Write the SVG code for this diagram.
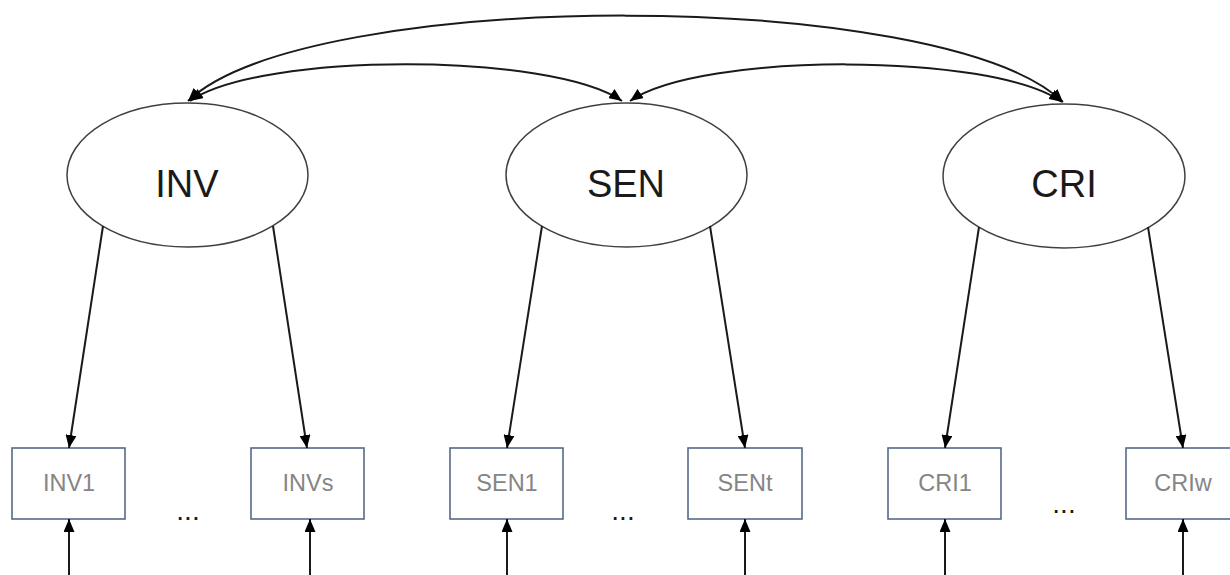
<svg xmlns="http://www.w3.org/2000/svg" width="1230" height="575" viewBox="0 0 1230 575">
  <style>
    .latent { fill: #ffffff; stroke: #404040; stroke-width: 1.5; }
    .latent-label { font-family: "Liberation Sans", Arial, sans-serif; font-size: 38px; fill: #1a1a1a; text-anchor: middle; }
    .item { fill: #ffffff; stroke: #55698a; stroke-width: 1.6; }
    .item-label { font-family: "Liberation Sans", Arial, sans-serif; font-size: 23.5px; fill: #858585; text-anchor: middle; }
    .dots { font-family: "Liberation Sans", Arial, sans-serif; font-size: 28px; fill: #1a1a1a; text-anchor: middle; }
    .edge { fill: none; stroke: #1a1a1a; stroke-width: 2; }
  </style>
  <defs>
    <marker id="arrow" viewBox="0 0 13 11" refX="13" refY="5.5" markerWidth="13" markerHeight="11" markerUnits="userSpaceOnUse" orient="auto-start-reverse">
      <path d="M0,0 L13,5.5 L0,11 Z" fill="#000000"/>
    </marker>
  </defs>

  <!-- latent factors -->
  <g id="node-INV">
    <ellipse class="latent" cx="187.5" cy="175" rx="120.5" ry="72"/>
    <text class="latent-label" x="187" y="197">INV</text>
  </g>
  <g id="node-SEN">
    <ellipse class="latent" cx="626.5" cy="175" rx="120.5" ry="72"/>
    <text class="latent-label" x="626" y="197">SEN</text>
  </g>
  <g id="node-CRI">
    <ellipse class="latent" cx="1064" cy="176" rx="121" ry="72"/>
    <text class="latent-label" x="1064" y="197">CRI</text>
  </g>

  <!-- observed indicators -->
  <g id="node-INV1">
    <rect class="item" x="12" y="448" width="113" height="71"/>
    <text class="item-label" x="69" y="491">INV1</text>
  </g>
  <g id="node-INVs">
    <rect class="item" x="251" y="448" width="113" height="71"/>
    <text class="item-label" x="308" y="491">INVs</text>
  </g>
  <g id="node-SEN1">
    <rect class="item" x="450" y="448" width="113" height="71"/>
    <text class="item-label" x="507" y="491">SEN1</text>
  </g>
  <g id="node-SENt">
    <rect class="item" x="688" y="448" width="114" height="71"/>
    <text class="item-label" x="745" y="491">SENt</text>
  </g>
  <g id="node-CRI1">
    <rect class="item" x="888" y="448" width="113" height="71"/>
    <text class="item-label" x="945" y="491">CRI1</text>
  </g>
  <g id="node-CRIw">
    <rect class="item" x="1126" y="448" width="114" height="71"/>
    <text class="item-label" x="1183" y="491">CRIw</text>
  </g>

  <!-- ellipsis between indicators -->
  <g id="ellipses">
    <text class="dots" x="188" y="520">...</text>
    <text class="dots" x="623" y="520">...</text>
    <text class="dots" x="1064" y="513">...</text>
  </g>

  <g id="connectors">
    <!-- covariances between factors -->
    <path class="edge" d="M188,101 C308,-13 943,-13 1063,102" marker-start="url(#arrow)" marker-end="url(#arrow)"/>
    <path class="edge" d="M190,101 C260,52 552,52 622,101" marker-start="url(#arrow)" marker-end="url(#arrow)"/>
    <path class="edge" d="M630,101 C700,52 992,52 1062,102" marker-start="url(#arrow)" marker-end="url(#arrow)"/>

    <!-- loadings -->
    <line class="edge" x1="103" y1="226" x2="69" y2="448" marker-end="url(#arrow)"/>
    <line class="edge" x1="273" y1="226" x2="307" y2="448" marker-end="url(#arrow)"/>
    <line class="edge" x1="542" y1="226" x2="507" y2="448" marker-end="url(#arrow)"/>
    <line class="edge" x1="710" y1="226" x2="745" y2="448" marker-end="url(#arrow)"/>
    <line class="edge" x1="979" y1="227" x2="945" y2="448" marker-end="url(#arrow)"/>
    <line class="edge" x1="1148" y1="227" x2="1183" y2="448" marker-end="url(#arrow)"/>

    <!-- error terms -->
    <line class="edge" x1="69" y1="575" x2="69" y2="519" marker-end="url(#arrow)"/>
    <line class="edge" x1="310" y1="575" x2="310" y2="519" marker-end="url(#arrow)"/>
    <line class="edge" x1="507" y1="575" x2="507" y2="519" marker-end="url(#arrow)"/>
    <line class="edge" x1="745" y1="575" x2="745" y2="519" marker-end="url(#arrow)"/>
    <line class="edge" x1="945" y1="575" x2="945" y2="519" marker-end="url(#arrow)"/>
    <line class="edge" x1="1183" y1="575" x2="1183" y2="519" marker-end="url(#arrow)"/>
  </g>
</svg>
